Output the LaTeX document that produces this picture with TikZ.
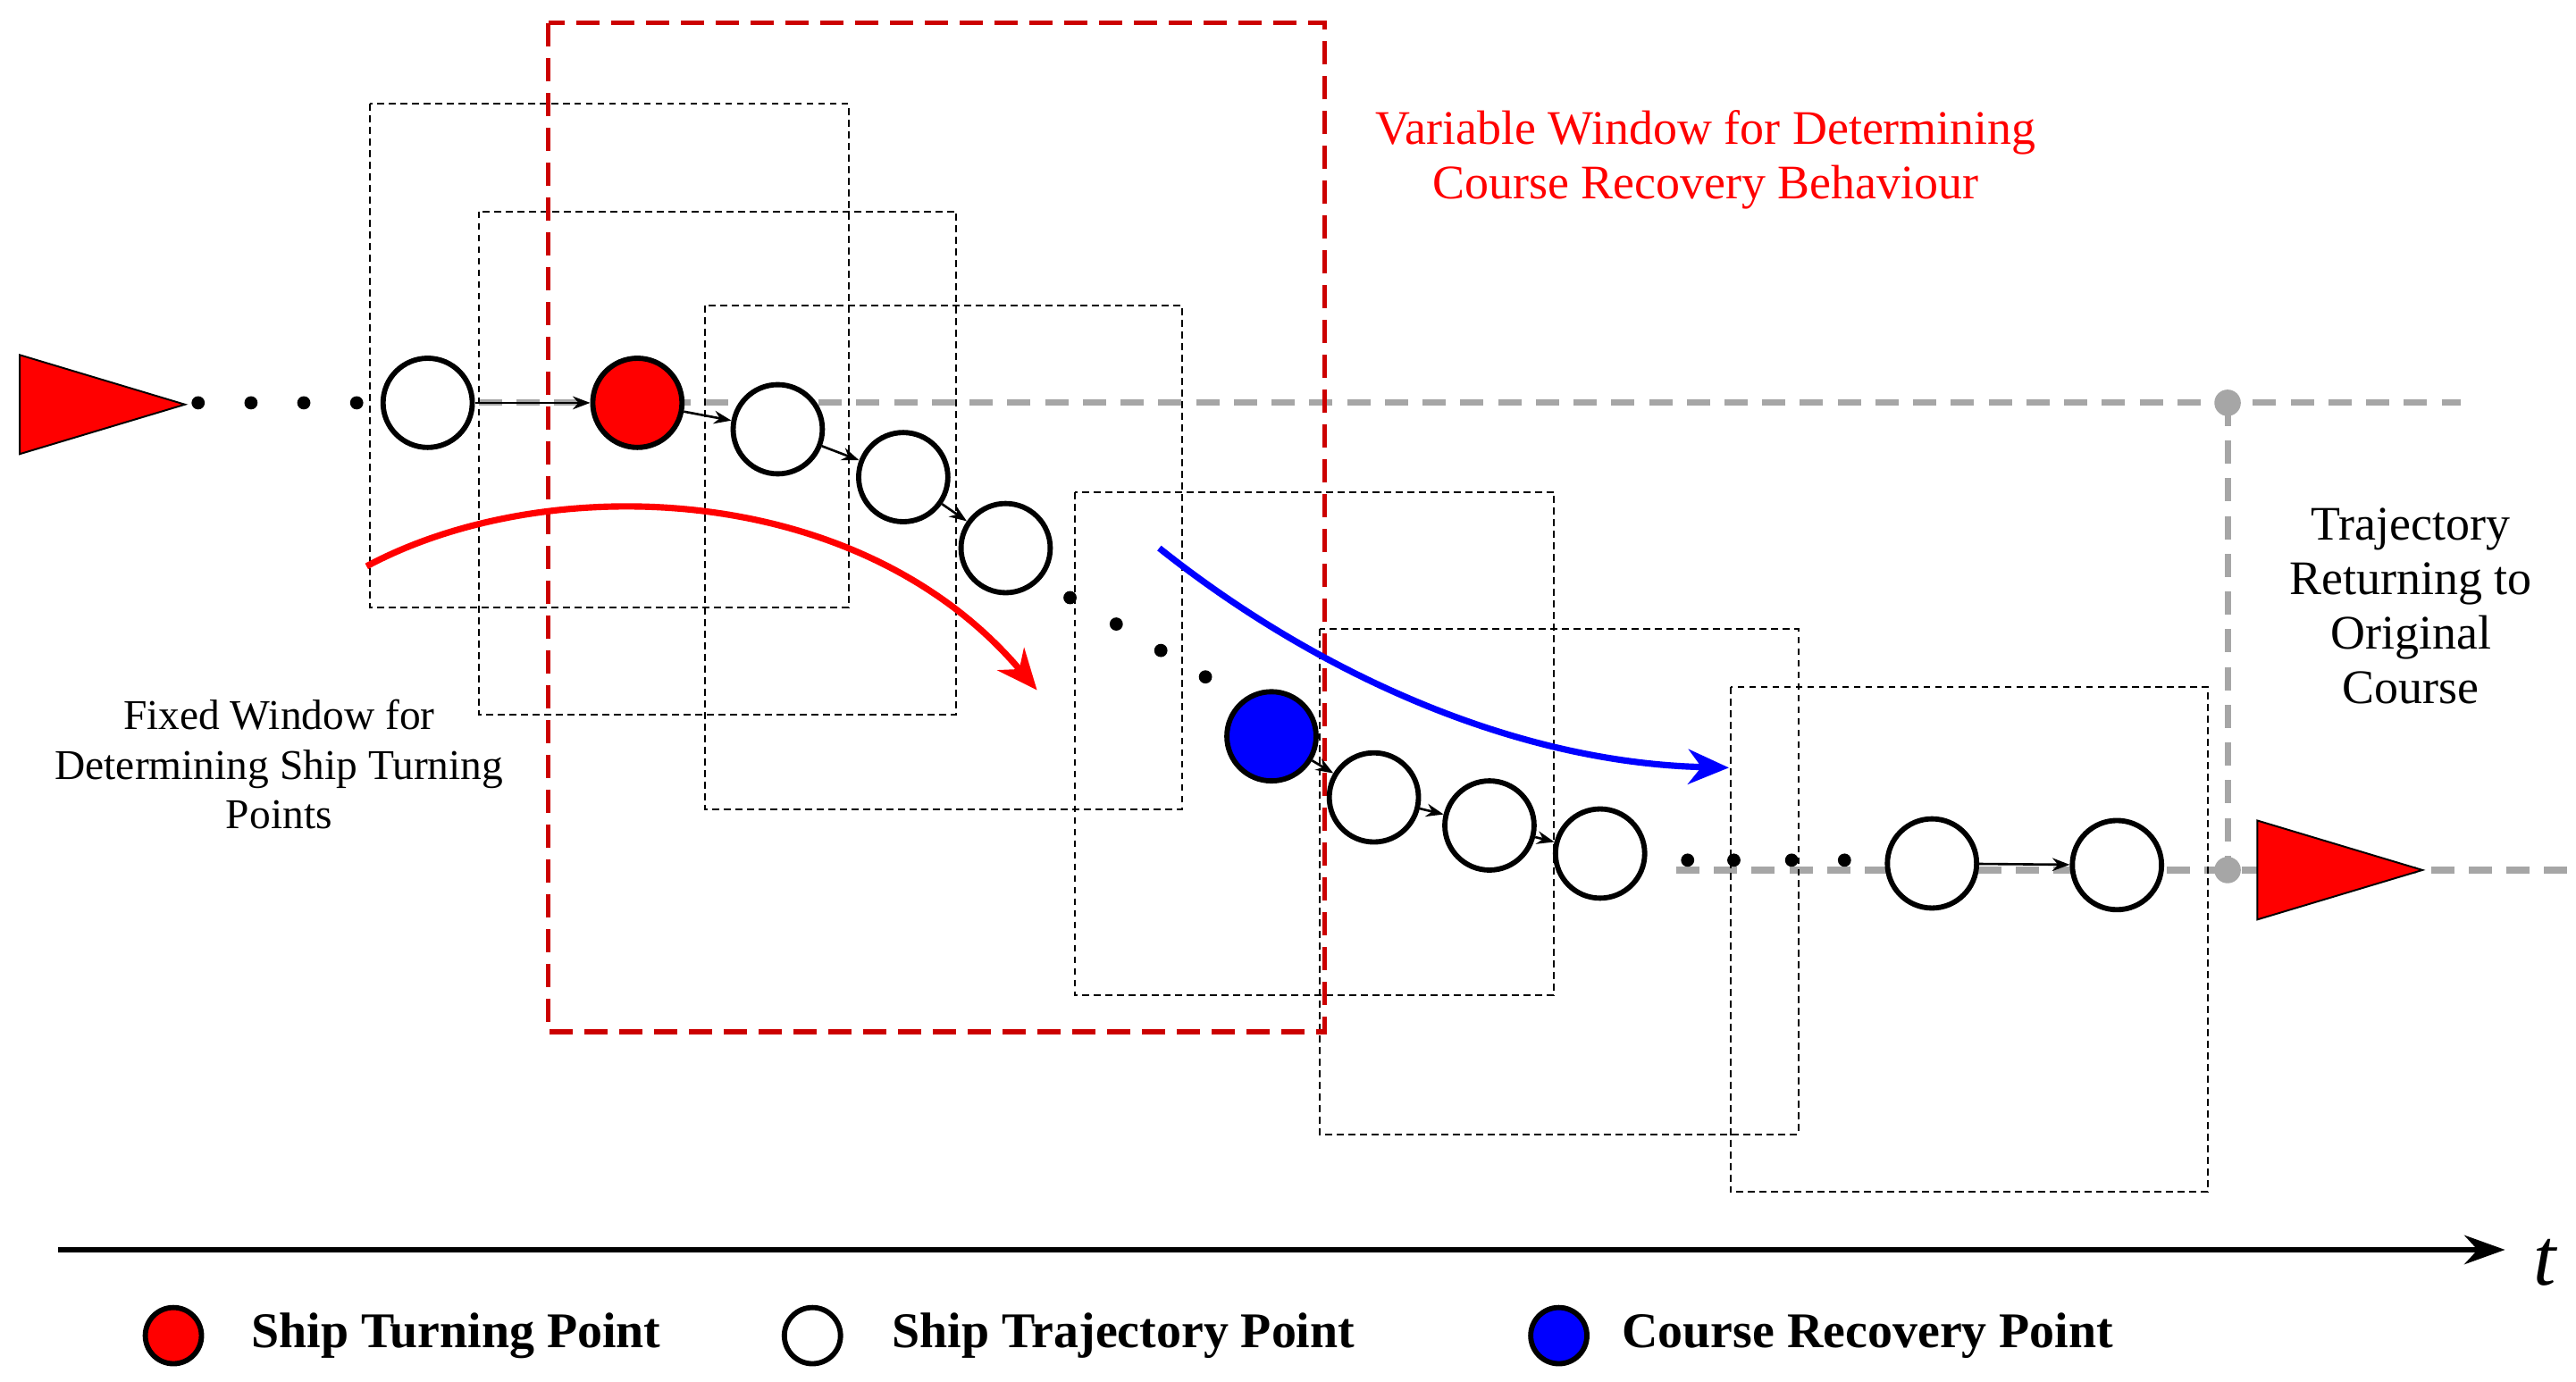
\documentclass[tikz,border=0pt]{standalone}
\usepackage{fontspec}
\setmainfont{Liberation Serif}
\usetikzlibrary{arrows.meta}
\begin{document}
\begin{tikzpicture}[x=0.01cm,y=-0.01cm,
 pt/.style={circle,draw=black,line width=0.9pt,minimum size=0.54cm,inner sep=0pt,fill=white},
 win/.style={draw=black,line width=0.3pt,dash pattern=on 1.2pt off 0.8pt},
 gl/.style={draw=gray!70,line width=1.1pt,dash pattern=on 4pt off 2.5pt},
 dt/.style={circle,fill=black,inner sep=0pt,minimum size=0.08cm},
 ar/.style={-{Stealth[length=3pt]},line width=0.4pt}]
\useasboundingbox (0,0) rectangle (1560,837);
\draw[gl] (290,244) -- (1490,244);
\draw[gl] (1015,527) -- (1555,527);
\draw[gl] (1349,244) -- (1349,527);
\fill[gray!70] (1349,244) circle (8) (1349,527) circle (8);
\foreach \xa/\ya/\xb/\yb in {224/63/514/368,290/128/579/433,427/185/716/490,651/298/941/603,799/381/1089/687,1048/416/1337/722}
 \draw[win] (\xa,\ya) rectangle (\xb,\yb);
\draw[red!80!black,line width=0.8pt,dash pattern=on 4pt off 2pt] (332,14) rectangle (802,625);
\fill[red,draw=black,line width=0.3pt] (12,215) -- (12,275) -- (112,245) -- cycle;
\fill[red,draw=black,line width=0.3pt] (1367,497) -- (1367,557) -- (1467,527) -- cycle;
\foreach \x [count=\i] in {120,152,184,216} \node[dt] (l\i) at (\x,244) {};
\node[pt] (c1) at (259,244) {};
\node[pt,fill=red] (c2) at (386,244) {};
\node[pt] (c3) at (471,260) {};
\node[pt] (c4) at (547,289) {};
\node[pt] (c5) at (609,332) {};
\foreach \x/\y [count=\i] in {648/362,676/378,703/394,730/410} \node[dt] (m\i) at (\x,\y) {};
\node[pt,fill=blue] (c6) at (770,446) {};
\node[pt] (c7) at (832,483) {};
\node[pt] (c8) at (902,500) {};
\node[pt] (c9) at (969,517) {};
\foreach \x [count=\i] in {1022,1050,1085,1117} \node[dt] (n\i) at (\x,521) {};
\node[pt] (c10) at (1170,523) {};
\node[pt] (c11) at (1282,524) {};
\draw[ar] (c1) -- (c2);
\draw[ar] (c2) -- (c3);
\draw[ar] (c3) -- (c4);
\draw[ar] (c4) -- (c5);
\draw[ar] (c6) -- (c7);
\draw[ar] (c7) -- (c8);
\draw[ar] (c8) -- (c9);
\draw[ar] (c10) -- (c11);
\coordinate (ra) at (222,343); \coordinate (rb) at (628,418);
\draw[red,line width=1.1pt,-{Stealth[length=7pt,width=6pt]}] (ra) .. controls (330,285) and (520,290) .. (rb);
\coordinate (ba) at (702,332); \coordinate (bb) at (1047,465);
\draw[blue,line width=1.1pt,-{Stealth[length=7pt,width=6pt]}] (ba) .. controls (800,410) and (920,462) .. (bb);
\node[red,font=\fontsize{8.3}{9.4}\selectfont,align=center] (vt) at (1033,97) {Variable Window for Determining\\Course Recovery Behaviour};
\node[font=\fontsize{7.3}{8.5}\selectfont,align=center] (ft) at (169,463) {Fixed Window for\\Determining Ship Turning\\Points};
\node[font=\fontsize{8.3}{9.4}\selectfont,align=center] (tt) at (1460,367) {Trajectory\\Returning to\\Original\\Course};
\coordinate (a0) at (35,757); \coordinate (a1) at (1517,757);
\draw[line width=0.8pt,-{Stealth[length=7pt,width=5pt]}] (a0) -- (a1);
\node[font=\itshape\fontsize{14}{14}\selectfont] (t) at (1541,765) {t};
\node[circle,draw,line width=0.9pt,fill=red,minimum size=0.34cm,inner sep=0pt] (k1) at (105,809) {};
\node[anchor=west,font=\bfseries\fontsize{8.6}{10}\selectfont] at (140,809) {Ship Turning Point};
\node[circle,draw,line width=0.9pt,fill=white,minimum size=0.34cm,inner sep=0pt] (k2) at (492,809) {};
\node[anchor=west,font=\bfseries\fontsize{8.6}{10}\selectfont] at (528,809) {Ship Trajectory Point};
\node[circle,draw,line width=0.9pt,fill=blue,minimum size=0.34cm,inner sep=0pt] (k3) at (944,809) {};
\node[anchor=west,font=\bfseries\fontsize{8.6}{10}\selectfont] at (970,809) {Course Recovery Point};
\end{tikzpicture}
\end{document}
